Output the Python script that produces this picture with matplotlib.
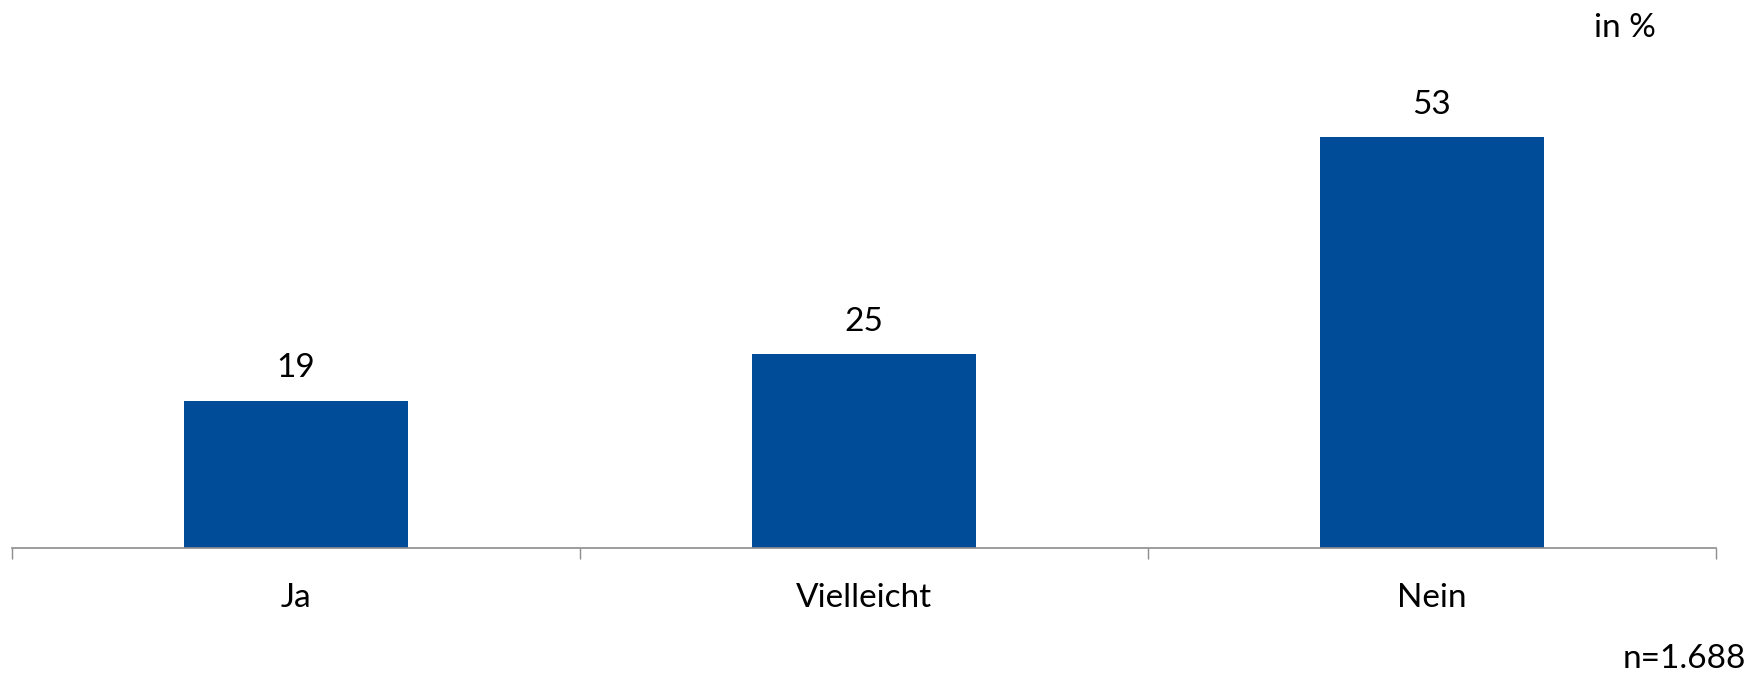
import matplotlib.pyplot as plt

categories = ["Ja", "Vielleicht", "Nein"]
values = [19, 25, 53]
sample_note = "n=1.688"
unit_note = "in %"

plt.rcParams['font.family'] = ['Lato', 'DejaVu Sans']

fig = plt.figure(figsize=(17.61, 6.75), dpi=100)
ax = fig.add_axes([12 / 1761, 127 / 675, (1716 - 12) / 1761, 548 / 675])

x = list(range(len(categories)))
bars = ax.bar(x, values, width=0.395, color='#004C99')

# value labels above bars
for xi, v in zip(x, values):
    ax.annotate(str(v), (xi, v), xytext=(0, 17), textcoords='offset points',
                ha='center', va='baseline', fontsize=24, color='black')

ax.set_xlim(-0.5, len(categories) - 0.5)
ax.set_ylim(0, 548 / 7.75)

for side in ['top', 'right', 'left']:
    ax.spines[side].set_visible(False)
ax.spines['bottom'].set_color('#8c8c8c')
ax.spines['bottom'].set_linewidth(1.2)

ax.set_yticks([])
ax.set_xticks([i - 0.5 for i in range(len(categories) + 1)])
ax.set_xticklabels([])
ax.tick_params(axis='x', which='major', direction='out', length=8,
               color='#8c8c8c', width=1)
ax.set_xticks(x, minor=True)
ax.set_xticklabels(categories, minor=True, fontsize=24)
ax.tick_params(axis='x', which='minor', length=0, pad=25)

fig.text(1625 / 1761, 1 - 37 / 675, unit_note, ha='center', va='baseline', fontsize=24)
fig.text(1746 / 1761, 1 - 668 / 675, sample_note, ha='right', va='baseline', fontsize=24)

fig.savefig('out.png', dpi=100)
